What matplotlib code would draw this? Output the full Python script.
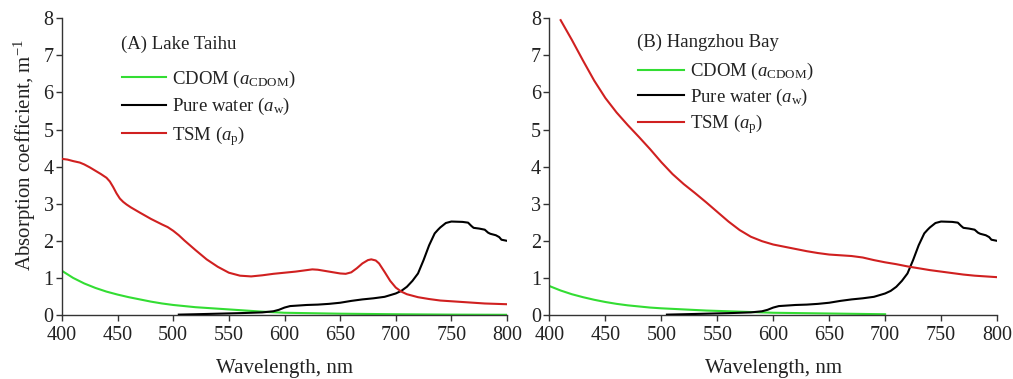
import matplotlib
matplotlib.use("Agg")
import matplotlib.pyplot as plt

plt.rcParams['font.family'] = ['Liberation Serif', 'DejaVu Serif']
plt.rcParams['mathtext.fontset'] = 'custom'
plt.rcParams['mathtext.rm'] = 'Liberation Serif'
plt.rcParams['mathtext.it'] = 'Liberation Serif:italic'

# ---------------- data ----------------
# Pure water absorption (same in both panels)
wl_water = [505, 520, 540, 560, 570, 580, 590, 595, 600, 605, 610, 620, 630, 640, 650,
            660, 670, 680, 690, 700, 705, 710, 715, 720, 725, 730, 735, 738, 740, 745,
            750, 760, 765, 768, 770, 775, 780, 783, 785, 790, 793, 795, 800]
a_water = [0.01, 0.02, 0.035, 0.05, 0.06, 0.07, 0.10, 0.14, 0.20, 0.24, 0.25, 0.27, 0.28, 0.30, 0.33,
           0.38, 0.42, 0.45, 0.49, 0.58, 0.65, 0.76, 0.92, 1.12, 1.48, 1.88, 2.20, 2.30, 2.36, 2.48,
           2.52, 2.51, 2.49, 2.40, 2.35, 2.33, 2.30, 2.22, 2.19, 2.15, 2.10, 2.03, 2.00]

# Panel A: Lake Taihu
wl_cdom_a = [400, 410, 420, 430, 440, 450, 460, 470, 480, 490, 500, 520, 540, 560, 580, 600,
             650, 700, 750, 800]
a_cdom_a = [1.19, 1.00, 0.85, 0.73, 0.63, 0.55, 0.48, 0.42, 0.36, 0.31, 0.27, 0.21, 0.17, 0.13,
            0.09, 0.06, 0.035, 0.02, 0.01, 0.005]

wl_tsm_a = [400, 405, 410, 416, 420, 425, 430, 435, 440, 443, 446, 449, 452, 455, 458, 462,
            466, 470, 480, 490, 495, 500, 505, 510, 520, 530, 540, 550, 560, 570, 580, 590,
            600, 610, 620, 625, 630, 640, 650, 655, 660, 665, 670, 675, 678, 682, 685, 690,
            695, 700, 705, 710, 720, 730, 740, 750, 760, 770, 780, 790, 800]
a_tsm_a = [4.21, 4.19, 4.15, 4.11, 4.06, 3.98, 3.89, 3.80, 3.70, 3.60, 3.45, 3.28, 3.14, 3.05,
           2.98, 2.90, 2.83, 2.76, 2.59, 2.44, 2.37, 2.27, 2.15, 2.01, 1.75, 1.50, 1.30, 1.14,
           1.06, 1.04, 1.07, 1.11, 1.14, 1.17, 1.21, 1.23, 1.22, 1.17, 1.12, 1.11, 1.15, 1.26,
           1.39, 1.48, 1.50, 1.47, 1.39, 1.16, 0.92, 0.74, 0.63, 0.56, 0.48, 0.43, 0.39, 0.37,
           0.35, 0.33, 0.31, 0.30, 0.29]

# Panel B: Hangzhou Bay
wl_cdom_b = [400, 410, 420, 430, 440, 450, 460, 470, 480, 490, 500, 520, 540, 560, 580, 600,
             650, 700]
a_cdom_b = [0.78, 0.66, 0.56, 0.48, 0.41, 0.35, 0.30, 0.26, 0.23, 0.20, 0.18, 0.15, 0.12,
            0.10, 0.08, 0.06, 0.04, 0.02]

wl_tsm_b = [410, 420, 430, 440, 450, 460, 470, 480, 490, 500, 510, 520, 530, 540, 550, 560,
            570, 580, 590, 600, 610, 620, 630, 640, 650, 660, 670, 680, 690, 700, 710, 720,
            730, 740, 750, 760, 770, 780, 790, 800]
a_tsm_b = [7.95, 7.42, 6.86, 6.32, 5.85, 5.46, 5.12, 4.80, 4.47, 4.12, 3.80, 3.53, 3.29, 3.04,
           2.78, 2.52, 2.29, 2.11, 1.99, 1.90, 1.84, 1.78, 1.72, 1.67, 1.63, 1.61, 1.59, 1.55,
           1.48, 1.42, 1.37, 1.31, 1.26, 1.21, 1.17, 1.13, 1.09, 1.06, 1.04, 1.02]

x_ticks = [400, 450, 500, 550, 600, 650, 700, 750, 800]
y_ticks = [0, 1, 2, 3, 4, 5, 6, 7, 8]
titles = ["(A) Lake Taihu", "(B) Hangzhou Bay"]
labels = ["CDOM ($a_{\\mathrm{CDOM}}$)", "Pure water ($a_{\\mathrm{w}}$)", "TSM ($a_{\\mathrm{p}}$)"]

GREEN = "#33dd33"
BLACK = "#000000"
RED = "#d02020"
TXT = "#222222"

fig = plt.figure(figsize=(10.13, 3.79), dpi=100)
axA = fig.add_axes([0.0612, 0.1689, 0.4393, 0.7828])
axB = fig.add_axes([0.5424, 0.1689, 0.4418, 0.7828])

panels = [
    (axA, wl_cdom_a, a_cdom_a, wl_tsm_a, a_tsm_a),
    (axB, wl_cdom_b, a_cdom_b, wl_tsm_b, a_tsm_b),
]

for i, (ax, wc, ac, wt, at) in enumerate(panels):
    l1, = ax.plot(wc, ac, color=GREEN, lw=1.5, zorder=2)
    l2, = ax.plot(wl_water, a_water, color=BLACK, lw=1.5, zorder=3)
    l3, = ax.plot(wt, at, color=RED, lw=1.5, zorder=4)
    ax.set_xlim(400, 800)
    ax.set_ylim(0, 8)
    ax.set_xticks(x_ticks)
    ax.set_yticks(y_ticks)
    for s in ("top", "right"):
        ax.spines[s].set_visible(False)
    for s in ("left", "bottom"):
        ax.spines[s].set_color("#333333")
        ax.spines[s].set_linewidth(1.0)
    ax.tick_params(axis="both", direction="out", length=4, width=1.0, colors="#333333",
                   labelsize=14.5, labelcolor=TXT)
    ax.tick_params(axis="x", pad=4)
    ax.tick_params(axis="y", pad=2)
    ax.set_xlabel("Wavelength, nm", fontsize=15, color=TXT, labelpad=10)
    if i == 0:
        ax.set_ylabel("Absorption coefficient, m$^{-1}$", fontsize=15, color=TXT)
        ax.yaxis.set_label_coords(-0.055, 0.54)
        ax.text(0.132, 0.912, titles[i], transform=ax.transAxes, fontsize=13.5,
                color=TXT, va="center", ha="left")
        leg = ax.legend([l1, l2, l3], labels, loc="upper left",
                        bbox_to_anchor=(0.135, 0.83), frameon=False, fontsize=13.5,
                        handlelength=2.35, handletextpad=0.3, labelspacing=0.34,
                        borderpad=0, borderaxespad=0)
    else:
        ax.text(0.195, 0.918, titles[i], transform=ax.transAxes, fontsize=13.5,
                color=TXT, va="center", ha="left")
        leg = ax.legend([l1, l2, l3], labels, loc="upper left",
                        bbox_to_anchor=(0.198, 0.855), frameon=False, fontsize=13.5,
                        handlelength=2.45, handletextpad=0.3, labelspacing=0.24,
                        borderpad=0, borderaxespad=0)
    for t in leg.get_texts():
        t.set_color(TXT)

fig.savefig("out.png", dpi=100)
